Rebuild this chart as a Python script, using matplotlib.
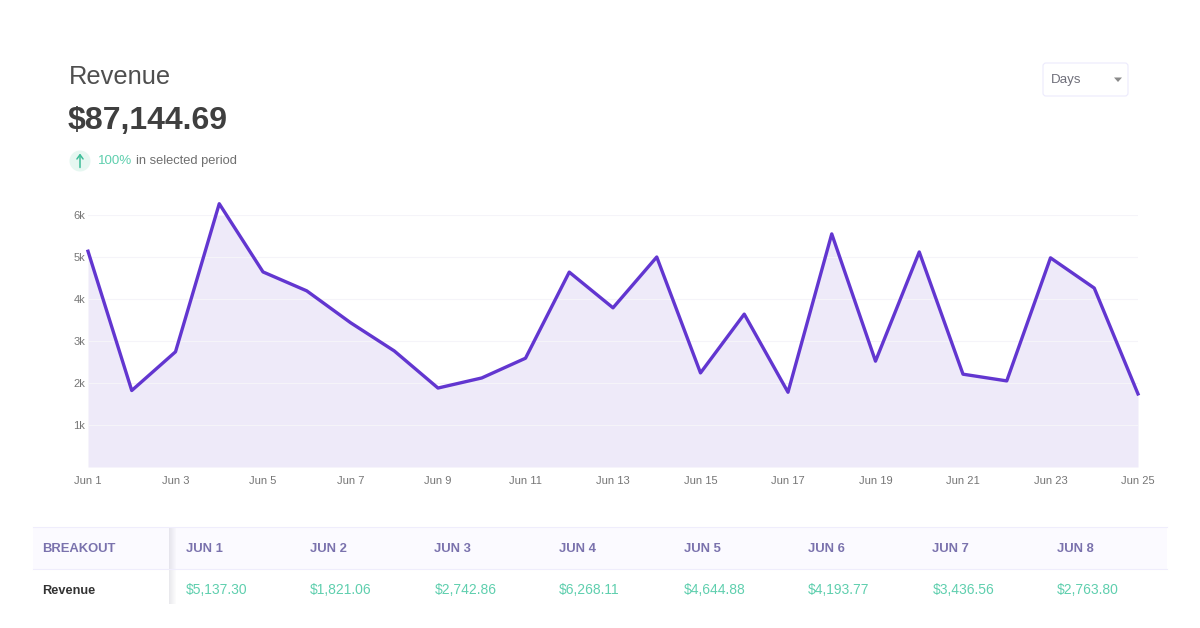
import matplotlib
matplotlib.use('Agg')
import matplotlib.pyplot as plt
from matplotlib.patches import Circle, FancyBboxPatch, Polygon, Rectangle

plt.rcParams['font.family'] = ['Liberation Sans', 'DejaVu Sans']

# valori
days = list(range(1, 26))
revenue = [5137.30, 1821.06, 2742.86, 6268.11, 4644.88, 4193.77, 3436.56, 2763.80,
           1880, 2120, 2590, 4640, 3790, 5000, 2240, 3640, 1780, 5550, 2520, 5120,
           2210, 2050, 4980, 4260, 1740]
y_ticks = [1000, 2000, 3000, 4000, 5000, 6000]
y_labels = ['1k', '2k', '3k', '4k', '5k', '6k']
x_ticks = list(range(1, 26, 2))
x_labels = ['Jun %d' % d for d in x_ticks]

table_head = ['JUN 1', 'JUN 2', 'JUN 3', 'JUN 4', 'JUN 5', 'JUN 6', 'JUN 7', 'JUN 8']
table_vals = ['$5,137.30', '$1,821.06', '$2,742.86', '$6,268.11',
              '$4,644.88', '$4,193.77', '$3,436.56', '$2,763.80']

PURPLE = '#6236d0'
FILL = '#eeeaf9'
GREEN = '#5fcfae'
GREY = '#4f4f4f'

fig = plt.figure(figsize=(12, 6.28), dpi=100)

# asse a pixel per testi, tabella e decorazioni
bg = fig.add_axes([0, 0, 1, 1])
bg.set_xlim(0, 1200)
bg.set_ylim(628, 0)
bg.axis('off')

# intestazione
bg.text(69, 77.5, 'Revenue', fontsize=18.4, color=GREY, va='center', ha='left')
bg.text(68, 120.5, '$87,144.69', fontsize=23, color='#3f3f3f', weight='bold', va='center', ha='left')
bg.add_patch(Circle((80, 161), 10.5, color='#e6f7f1', lw=0))
bg.annotate('', xy=(80, 153.5), xytext=(80, 167.5),
            arrowprops=dict(arrowstyle='->,head_width=0.22,head_length=0.3', color='#3dbd98',
                            lw=1.1, shrinkA=0, shrinkB=0))
bg.text(98, 161, '100%', fontsize=9.6, color=GREEN, va='center', ha='left')
bg.text(136, 161, 'in selected period', fontsize=9.3, color='#6f6f6f', va='center', ha='left')

# selettore Days
bg.add_patch(FancyBboxPatch((1043, 63), 85, 33, boxstyle='round,pad=0,rounding_size=3',
                            fc='white', ec='#eceafc', lw=0.8))
bg.text(1051, 80, 'Days', fontsize=9.6, color='#6f6f7a', va='center', ha='left')
bg.add_patch(Polygon([[1114, 77.5], [1122, 77.5], [1118, 82]], color='#8a8a8a', lw=0))

# tabella
bg.add_patch(Rectangle((33, 527), 1134, 42, fc='#fbfaff', ec='none'))
bg.plot([33, 1167], [527, 527], color='#efedfc', lw=0.8)
bg.plot([33, 1167], [569, 569], color='#efedfc', lw=0.8)
for i in range(7):
    bg.add_patch(Rectangle((169 + i, 527), 1, 77, fc='#7a7a90', alpha=0.16 - i * 0.022, ec='none'))
bg.text(42, 548.5, 'BREAKOUT', fontsize=9.4, color='#7a72ad', weight='bold', va='center', ha='left')
bg.text(42, 590.5, 'Revenue', fontsize=9.2, color='#333333', weight='bold', va='center', ha='left')
for i in range(len(table_head)):
    col = 185.5 + i * 124.5
    bg.text(col, 548.5, table_head[i], fontsize=9.4, color='#7a72ad', weight='bold', va='center', ha='left')
    bg.text(col, 590.5, table_vals[i], fontsize=10, color=GREEN, va='center', ha='left')

# grafico
ax = fig.add_axes([88 / 1200, (628 - 467) / 628, 1050 / 1200, 252 / 628])
ax.patch.set_alpha(0)
ax.set_xlim(1, 25)
ax.set_ylim(0, 6000)
ax.fill_between(days, revenue, 0, color=FILL, lw=0, zorder=1)
ax.plot(days, revenue, color=PURPLE, lw=2.4, solid_joinstyle='round', clip_on=False, zorder=3)

ax.set_yticks(y_ticks)
ax.set_yticklabels(y_labels, fontsize=8, color='#757575')
ax.set_xticks(x_ticks)
ax.set_xticklabels(x_labels, fontsize=8, color='#757575')
ax.tick_params(length=0)
ax.tick_params(axis='y', pad=2)
ax.tick_params(axis='x', pad=6.5)
ax.grid(axis='y', color='#f5f4f9', lw=0.8, zorder=2)
for s in ax.spines.values():
    s.set_visible(False)

fig.savefig('out.png', dpi=100, facecolor='white')
